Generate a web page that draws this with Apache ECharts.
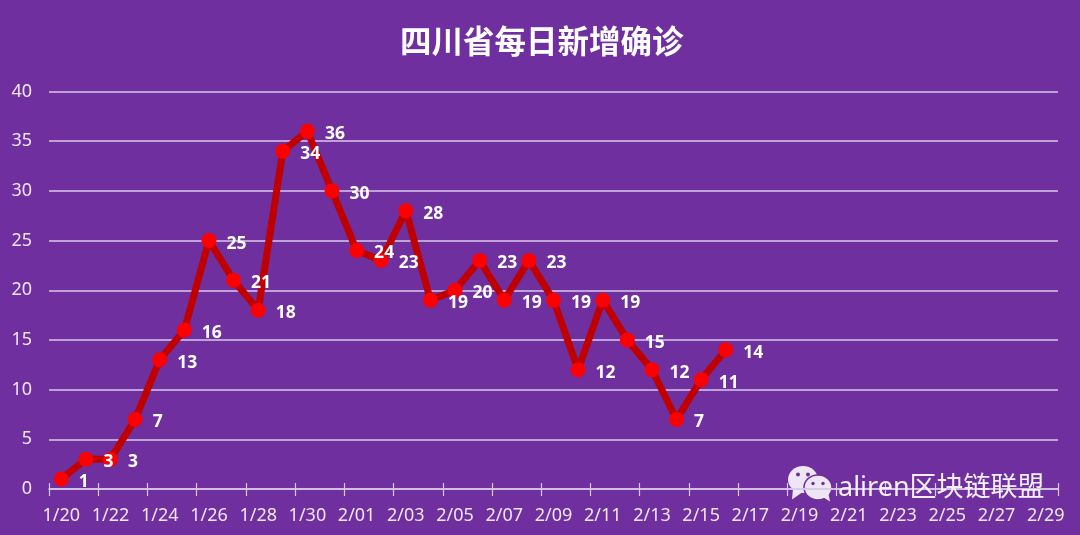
<!DOCTYPE html>
<html>
<head>
<meta charset="utf-8">
<style>html,body{margin:0;padding:0;background:#6f2f9f}#c{width:1080px;height:535px}</style>
<script src="https://cdn.jsdelivr.net/npm/echarts@6/dist/echarts.min.js"></script>
</head>
<body>
<div id="c"></div>
<script>
var titleText = '四川省每日新增确诊';
var watermarkText = 'aliren区块链联盟';
var jan = [20,21,22,23,24,25,26,27,28,29,30,31];
var feb = [1,2,3,4,5,6,7,8,9,10,11,12,13,14,15,16,17,18,19,20,21,22,23,24,25,26,27,28,29];
var categories = jan.map(function(d){return '1/'+d;}).concat(feb.map(function(d){return '2/'+(d<10?'0'+d:d);}));
var values = [1,3,3,7,13,16,25,21,18,34,36,30,24,23,28,19,20,23,19,23,19,12,19,15,12,7,11,14];
var font = '"Noto Sans","Noto Sans CJK SC",sans-serif';
var lav = '#d8c8e8';
var chart = echarts.init(document.getElementById('c'), null, {renderer:'canvas'});
chart.setOption({
  backgroundColor:'#6f2f9f',
  animation:false,
  title:{text:titleText,left:395,top:20,
    textStyle:{color:'#fff',fontSize:31.5,fontWeight:'bold',fontFamily:'"Noto Sans CJK SC",sans-serif'}},
  grid:{left:49,right:22,top:91.5,bottom:46,containLabel:false},
  xAxis:[{
    type:'category',data:categories,boundaryGap:true,
    axisLine:{lineStyle:{color:lav,width:1.5}},
    axisTick:{show:true,interval:1,length:7,lineStyle:{color:lav,width:1.2}},
    axisLabel:{interval:1,color:'#efe6f6',fontSize:18,fontFamily:font,margin:18,showMaxLabel:true,hideOverlap:false},
    splitLine:{show:false}
  },{
    type:'category',data:categories,boundaryGap:true,position:'bottom',
    axisLine:{show:false},
    axisTick:{show:true,inside:true,interval:1,length:6,lineStyle:{color:lav,width:1.2}},
    axisLabel:{show:false}
  }],
  yAxis:{
    type:'value',min:0,max:40,interval:5,
    axisLine:{show:false},axisTick:{show:false},
    axisLabel:{color:'#efe6f6',fontSize:18,fontFamily:font,margin:17},
    splitLine:{lineStyle:{color:lav,width:1.5}}
  },
  series:[{
    type:'line',data:values,
    lineStyle:{color:'#c00000',width:7},
    symbol:'circle',symbolSize:15,
    itemStyle:{color:'#ff0000',borderWidth:0},
    label:{show:true,position:'right',distance:10,color:'#fff',fontSize:17.5,fontWeight:'bold',fontFamily:font},
    labelLayout:{hideOverlap:false,dy:3},
    z:5
  }],
  graphic:[
    {type:'group',left:788,top:466,z:50,silent:true,children:[
      {type:'ellipse',shape:{cx:15,cy:16,rx:15,ry:13.5},style:{fill:'#efe6f5'}},
      {type:'polygon',shape:{points:[[5,25],[4,36],[14,29]]},style:{fill:'#efe6f5'}},
      {type:'circle',shape:{cx:10,cy:11,r:2},style:{fill:'#6f2f9f'}},
      {type:'circle',shape:{cx:20,cy:11,r:2},style:{fill:'#6f2f9f'}},
      {type:'ellipse',shape:{cx:30,cy:24,rx:14,ry:12.5},style:{fill:'#efe6f5',stroke:'#6f2f9f',lineWidth:1.5}},
      {type:'polygon',shape:{points:[[34,33],[42,38],[40,28]]},style:{fill:'#efe6f5'}},
      {type:'circle',shape:{cx:25,cy:20,r:1.7},style:{fill:'#6f2f9f'}},
      {type:'circle',shape:{cx:35,cy:20,r:1.7},style:{fill:'#6f2f9f'}}
    ]},
    {type:'text',left:838,top:475,z:50,silent:true,
      style:{text:watermarkText,fill:'#f4eff8',fontSize:27,fontFamily:font}}
  ]
});
</script>
</body>
</html>
